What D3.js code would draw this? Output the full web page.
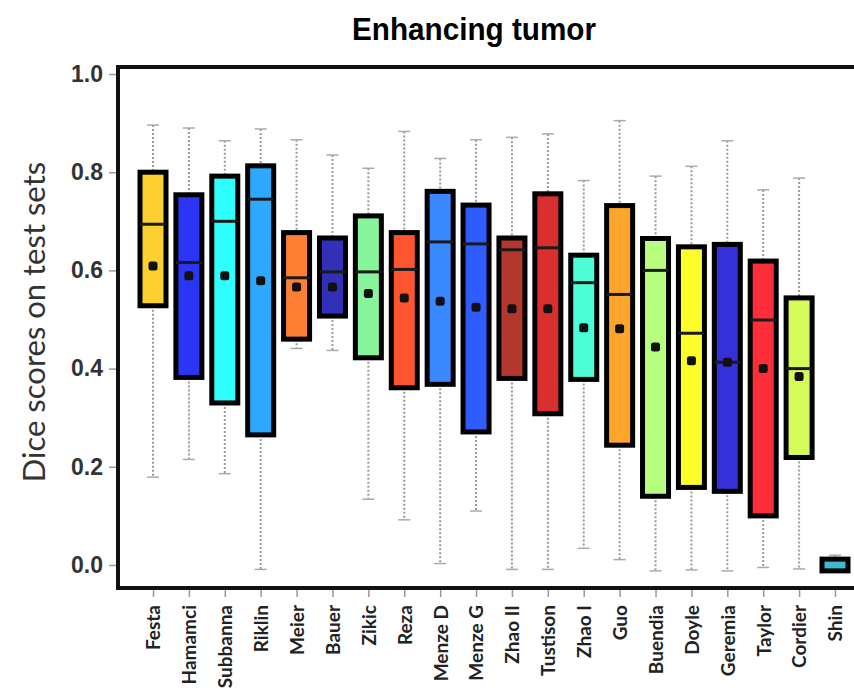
<!DOCTYPE html>
<html>
<head>
<meta charset="utf-8">
<script src="https://cdn.jsdelivr.net/npm/d3@7"></script>
<style>
  html, body { margin: 0; padding: 0; background: #fff; }
  svg { display: block; }
</style>
</head>
<body>
<svg id="chart" width="854" height="691"></svg>
<script>
// Participants (x categories)
const teams = ["Festa", "Hamamci", "Subbanna", "Riklin", "Meier", "Bauer", "Zikic", "Reza",
  "Menze D", "Menze G", "Zhao II", "Tustison", "Zhao I", "Guo", "Buendia", "Doyle",
  "Geremia", "Taylor", "Cordier", "Shin"];

// Box statistics per participant
const whiskerHigh = [0.896, 0.890, 0.864, 0.888, 0.866, 0.835, 0.808, 0.883, 0.828, 0.866,
  0.871, 0.878, 0.783, 0.905, 0.792, 0.812, 0.864, 0.764, 0.788, 0.020];
const q3 = [0.800, 0.754, 0.792, 0.813, 0.677, 0.666, 0.711, 0.677, 0.761, 0.733,
  0.666, 0.756, 0.631, 0.732, 0.665, 0.648, 0.653, 0.619, 0.544, 0.012];
const medians = [0.694, 0.616, 0.700, 0.745, 0.585, 0.597, 0.597, 0.602, 0.658, 0.654,
  0.642, 0.646, 0.575, 0.551, 0.600, 0.472, 0.413, 0.499, 0.400, null];
const means = [0.609, 0.589, 0.589, 0.579, 0.566, 0.566, 0.553, 0.544, 0.537, 0.525,
  0.522, 0.522, 0.483, 0.481, 0.444, 0.416, 0.413, 0.400, 0.384, null];
const q1 = [0.528, 0.382, 0.330, 0.265, 0.460, 0.507, 0.422, 0.361, 0.368, 0.271,
  0.380, 0.308, 0.378, 0.244, 0.140, 0.158, 0.150, 0.100, 0.219, -0.012];
const whiskerLow = [0.179, 0.215, 0.186, -0.009, 0.441, 0.437, 0.134, 0.092, 0.003, 0.110,
  -0.009, -0.009, 0.034, 0.011, -0.012, -0.010, -0.012, -0.005, -0.008, -0.012];

const boxColors = ["#fcd030", "#2b35f5", "#30fdfd", "#2ea8fd", "#fe7f33", "#3230b8",
  "#88f49c", "#fe5530", "#3a88fd", "#2f5cfd", "#b3372d", "#d9302f", "#4cfdd6",
  "#fea62b", "#b8fd80", "#fdfd2a", "#3530d8", "#fe2d3a", "#d5fc5a", "#3abbd2"];

// Y axis tick values
const yTicks = [0.0, 0.2, 0.4, 0.6, 0.8, 1.0];

const svg = d3.select("#chart");

const frame = { left: 118, top: 67, right: 860, bottom: 588 };

const y = d3.scaleLinear().domain([0, 1]).range([565, 74]);
const x = d3.scalePoint().domain(teams).range([153, 835]);
const boxW = 26;

const rows = teams.map((t, i) => ({
  team: t, hi: whiskerHigh[i], q3: q3[i], med: medians[i], mean: means[i],
  q1: q1[i], lo: whiskerLow[i], color: boxColors[i]
}));

// Title
svg.append("text")
  .attr("x", 474).attr("y", 40)
  .attr("text-anchor", "middle")
  .attr("font-family", "'Liberation Sans', Arial, sans-serif")
  .attr("font-weight", "bold")
  .attr("font-size", 32)
  .attr("textLength", 244)
  .attr("lengthAdjust", "spacingAndGlyphs")
  .attr("fill", "#000")
  .text("Enhancing tumor");

// Y axis title
svg.append("text")
  .attr("transform", "translate(45,322) rotate(-90)")
  .attr("text-anchor", "middle")
  .attr("font-family", "Lato, 'Open Sans', sans-serif")
  .attr("font-size", 31)
  .attr("fill", "#333")
  .text("Dice scores on test sets");

// Y axis
const yAxis = svg.append("g")
  .attr("transform", `translate(${frame.left},0)`)
  .call(d3.axisLeft(y).tickValues(yTicks).tickFormat(d3.format(".1f")).tickSize(9).tickPadding(6));
yAxis.select(".domain").remove();
yAxis.selectAll(".tick line").attr("stroke", "#999").attr("stroke-width", 1.5);
yAxis.selectAll(".tick text")
  .attr("font-family", "'Liberation Sans', Arial, sans-serif")
  .attr("font-weight", "bold")
  .attr("font-size", 23)
  .attr("fill", "#333");

// X axis
const xAxis = svg.append("g")
  .attr("transform", `translate(0,${frame.bottom})`)
  .call(d3.axisBottom(x).tickSize(9).tickPadding(10));
xAxis.select(".domain").remove();
xAxis.selectAll(".tick line").attr("stroke", "#999").attr("stroke-width", 1.5);
xAxis.selectAll(".tick text")
  .attr("transform", "rotate(-90)")
  .attr("text-anchor", "end")
  .attr("x", -17)
  .attr("y", 0)
  .attr("dy", "0.36em")
  .attr("font-family", "Lato, 'Open Sans', sans-serif")
  .attr("font-weight", "bold")
  .attr("font-size", 19)
  .attr("fill", "#222");

// Plot frame
svg.append("rect")
  .attr("x", frame.left).attr("y", frame.top)
  .attr("width", frame.right - frame.left)
  .attr("height", frame.bottom - frame.top)
  .attr("fill", "none")
  .attr("stroke", "#111")
  .attr("stroke-width", 4);

const g = svg.append("g");
const boxes = g.selectAll("g.box").data(rows).join("g").attr("class", "box");

// Dotted whiskers
boxes.append("line")
  .attr("x1", d => x(d.team)).attr("x2", d => x(d.team))
  .attr("y1", d => y(d.hi)).attr("y2", d => y(d.q3))
  .attr("stroke", "#9a9a9a").attr("stroke-width", 2).attr("stroke-dasharray", "2,2");
boxes.append("line")
  .attr("x1", d => x(d.team)).attr("x2", d => x(d.team))
  .attr("y1", d => y(d.q1)).attr("y2", d => y(d.lo))
  .attr("stroke", "#9a9a9a").attr("stroke-width", 2).attr("stroke-dasharray", "2,2");

// Whisker caps
boxes.append("line")
  .attr("x1", d => x(d.team) - 6).attr("x2", d => x(d.team) + 6)
  .attr("y1", d => y(d.hi)).attr("y2", d => y(d.hi))
  .attr("stroke", "#aaa").attr("stroke-width", 1.5);
boxes.filter(d => d.lo < d.q1).append("line")
  .attr("x1", d => x(d.team) - 6).attr("x2", d => x(d.team) + 6)
  .attr("y1", d => y(d.lo)).attr("y2", d => y(d.lo))
  .attr("stroke", "#aaa").attr("stroke-width", 1.5);

// Boxes
boxes.append("rect")
  .attr("x", d => x(d.team) - boxW / 2)
  .attr("width", boxW)
  .attr("y", d => y(d.q3))
  .attr("height", d => y(d.q1) - y(d.q3))
  .attr("fill", d => d.color)
  .attr("stroke", "#000")
  .attr("stroke-width", 5);

// Medians
boxes.filter(d => d.med != null).append("line")
  .attr("x1", d => x(d.team) - boxW / 2).attr("x2", d => x(d.team) + boxW / 2)
  .attr("y1", d => y(d.med)).attr("y2", d => y(d.med))
  .attr("stroke", "#1a1a1a").attr("stroke-width", 3);

// Means
boxes.filter(d => d.mean != null).append("rect")
  .attr("x", d => x(d.team) - 4.5).attr("y", d => y(d.mean) - 4.5)
  .attr("width", 9).attr("height", 9).attr("rx", 2.5)
  .attr("fill", "#111");
</script>
</body>
</html>
